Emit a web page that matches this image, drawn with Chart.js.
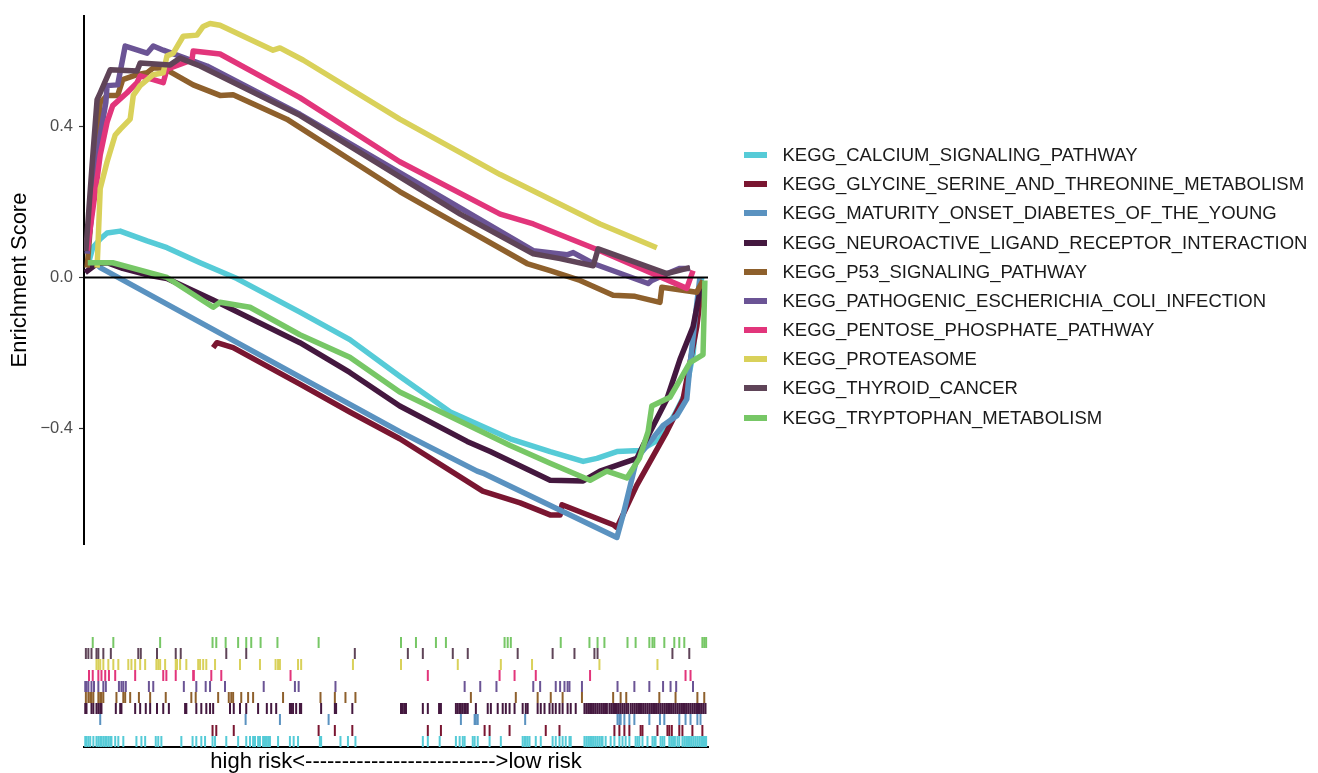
<!DOCTYPE html>
<html>
<head>
<meta charset="utf-8">
<script src="https://cdn.jsdelivr.net/npm/chart.js@4.4.0/dist/chart.umd.min.js"></script>
<style>
  html, body { margin: 0; padding: 0; background: #fff; }
  #wrap { position: relative; width: 1318px; height: 773px; overflow: hidden; }
  #esChart { position: absolute; left: 0; top: 0; }
  #rugChart { position: absolute; left: 0; top: 600px; }
  #legend {
    position: absolute; left: 744px; top: 140.4px;
    font-family: "Liberation Sans", Arial, sans-serif; font-size: 18.5px; color: #1a1a1a;
  }
  .item { display: flex; align-items: center; height: 29.2px; white-space: nowrap; }
  .key { width: 23px; height: 6px; margin-right: 15.5px; }
</style>
</head>
<body>
<div id="wrap">
  <canvas id="esChart" width="1318" height="560"></canvas>
  <canvas id="rugChart" width="1318" height="173"></canvas>
  <div id="legend"></div>
</div>
<script>
const geneSets = [
  "KEGG_CALCIUM_SIGNALING_PATHWAY",
  "KEGG_GLYCINE_SERINE_AND_THREONINE_METABOLISM",
  "KEGG_MATURITY_ONSET_DIABETES_OF_THE_YOUNG",
  "KEGG_NEUROACTIVE_LIGAND_RECEPTOR_INTERACTION",
  "KEGG_P53_SIGNALING_PATHWAY",
  "KEGG_PATHOGENIC_ESCHERICHIA_COLI_INFECTION",
  "KEGG_PENTOSE_PHOSPHATE_PATHWAY",
  "KEGG_PROTEASOME",
  "KEGG_THYROID_CANCER",
  "KEGG_TRYPTOPHAN_METABOLISM"
];
const palette = ["#56cbd7", "#7a1631", "#5a92c0", "#44183f", "#8e602c",
                 "#6b5495", "#e2357b", "#d9d15a", "#5f4458", "#77c766"];

const yTicks = [-0.4, 0, 0.4];
const xTitle = "high risk<-------------------------->low risk";

// running enrichment score, rank 0..1000
const calciumRank = [6, 14, 26, 37, 58, 101, 133, 186, 245, 346, 426, 506, 587, 683, 747, 800, 822, 854, 891, 923, 947, 963, 976, 984, 990];
const calciumES = [0.031, 0.079, 0.102, 0.118, 0.123, 0.097, 0.079, 0.039, -0.003, -0.092, -0.165, -0.262, -0.357, -0.428, -0.462, -0.488, -0.480, -0.462, -0.459, -0.428, -0.362, -0.310, -0.205, -0.060, 0.000];

const glycineRank = [207, 213, 239, 346, 426, 506, 639, 699, 747, 763, 766, 848, 854, 886, 934, 960, 982, 990];
const glycineES = [-0.186, -0.173, -0.186, -0.283, -0.357, -0.428, -0.567, -0.598, -0.630, -0.630, -0.603, -0.656, -0.664, -0.551, -0.409, -0.323, -0.131, -0.021];

const maturityRank = [6, 18, 26, 506, 630, 639, 854, 864, 886, 928, 950, 966, 971, 979, 987];
const maturityES = [0.039, 0.039, 0.026, -0.409, -0.514, -0.519, -0.690, -0.630, -0.480, -0.393, -0.367, -0.323, -0.236, -0.113, 0.000];

const neuroRank = [2, 21, 37, 62, 106, 133, 207, 346, 426, 506, 614, 651, 747, 800, 827, 886, 896, 934, 955, 976, 989];
const neuroES = [0.013, 0.037, 0.039, 0.024, 0.005, -0.003, -0.060, -0.173, -0.252, -0.341, -0.435, -0.462, -0.538, -0.540, -0.514, -0.480, -0.446, -0.323, -0.218, -0.131, -0.021];

const p53Rank = [5, 26, 37, 54, 62, 85, 101, 111, 127, 175, 218, 239, 325, 506, 710, 747, 795, 848, 883, 923, 926, 982, 992];
const p53ES = [0.026, 0.464, 0.483, 0.483, 0.525, 0.538, 0.543, 0.556, 0.556, 0.511, 0.483, 0.485, 0.420, 0.228, 0.037, 0.018, -0.008, -0.047, -0.050, -0.066, -0.026, -0.039, -0.008];

const pathoRank = [5, 26, 35, 37, 54, 66, 101, 111, 127, 197, 346, 720, 774, 784, 816, 904, 910, 934, 955, 971];
const pathoES = [0.063, 0.378, 0.464, 0.509, 0.511, 0.614, 0.595, 0.614, 0.603, 0.561, 0.433, 0.071, 0.060, 0.066, 0.037, -0.016, -0.008, 0.010, 0.024, 0.024];

const pentoseRank = [5, 21, 26, 37, 46, 69, 85, 90, 111, 127, 133, 173, 175, 218, 346, 506, 667, 720, 827, 966, 976];
const pentoseES = [0.071, 0.262, 0.325, 0.412, 0.456, 0.490, 0.517, 0.535, 0.525, 0.517, 0.553, 0.577, 0.601, 0.593, 0.477, 0.307, 0.168, 0.142, 0.071, -0.029, 0.018];

const proteaRank = [21, 26, 37, 50, 58, 74, 79, 90, 111, 127, 133, 143, 159, 181, 191, 202, 218, 303, 314, 351, 506, 667, 827, 918];
const proteaES = [0.026, 0.236, 0.307, 0.378, 0.393, 0.420, 0.483, 0.509, 0.538, 0.543, 0.588, 0.595, 0.640, 0.643, 0.666, 0.674, 0.669, 0.603, 0.609, 0.577, 0.420, 0.273, 0.142, 0.079];

const thyroidRank = [3, 13, 21, 26, 42, 85, 90, 138, 154, 186, 346, 603, 720, 763, 816, 824, 934, 971];
const thyroidES = [0.07, 0.299, 0.472, 0.490, 0.551, 0.548, 0.569, 0.564, 0.582, 0.561, 0.430, 0.168, 0.063, 0.050, 0.031, 0.076, 0.010, 0.026];

const tryptoRank = [6, 46, 133, 207, 218, 266, 346, 426, 506, 683, 747, 811, 838, 870, 890, 904, 910, 939, 971, 992, 995];
const tryptoES = [0.039, 0.039, 0.000, -0.079, -0.066, -0.079, -0.152, -0.212, -0.304, -0.446, -0.493, -0.538, -0.514, -0.532, -0.480, -0.409, -0.341, -0.318, -0.226, -0.205, -0.008];

// gene hits per set (rug)
const rugCalcium = [2, 4, 7, 10, 15, 20, 23, 26, 28, 31, 34, 36, 39, 42, 44, 50, 55, 63, 84, 92, 98, 115, 119, 124, 156, 174, 180, 188, 194, 206, 210, 228, 247, 260, 266, 271, 274, 279, 282, 287, 290, 292, 295, 298, 311, 330, 336, 343, 378, 380, 411, 423, 435, 543, 551, 570, 596, 602, 607, 610, 623, 626, 631, 650, 668, 703, 706, 708, 711, 714, 724, 732, 751, 756, 762, 767, 772, 778, 780, 802, 805, 808, 811, 814, 817, 820, 823, 826, 829, 831, 836, 844, 850, 858, 863, 868, 874, 884, 887, 890, 895, 903, 911, 914, 916, 924, 927, 930, 938, 941, 944, 947, 951, 954, 959, 962, 965, 968, 971, 974, 977, 980, 983, 986, 989, 992, 995, 997];
const rugGlycine = [206, 212, 240, 376, 402, 430, 551, 572, 642, 650, 682, 740, 762, 850, 858, 866, 874, 892, 895, 919, 935, 938, 942, 954, 959, 975, 991];
const rugMaturity = [26, 259, 314, 392, 604, 626, 628, 631, 707, 855, 858, 860, 866, 874, 882, 906, 923, 930, 954, 964, 972, 983, 988];
const rugNeuro = [2, 4, 12, 15, 20, 23, 26, 28, 51, 58, 60, 82, 90, 99, 106, 117, 127, 136, 162, 164, 180, 188, 196, 202, 207, 234, 240, 250, 260, 279, 293, 300, 308, 330, 332, 335, 340, 346, 348, 380, 402, 404, 430, 508, 511, 514, 516, 543, 551, 569, 572, 596, 599, 602, 604, 607, 610, 612, 615, 628, 647, 652, 663, 671, 676, 682, 690, 703, 708, 711, 727, 732, 738, 746, 751, 756, 762, 767, 775, 780, 788, 802, 805, 808, 811, 814, 817, 820, 823, 826, 829, 832, 835, 838, 842, 845, 848, 851, 854, 857, 860, 863, 866, 869, 872, 876, 879, 882, 885, 888, 891, 894, 897, 900, 903, 906, 909, 912, 915, 918, 921, 924, 927, 930, 933, 936, 939, 942, 945, 948, 951, 954, 957, 960, 963, 966, 969, 972, 975, 978, 981, 984, 987, 990, 993, 996];
const rugP53 = [3, 7, 10, 12, 15, 23, 26, 28, 31, 52, 63, 66, 74, 88, 106, 131, 172, 179, 215, 232, 236, 239, 252, 263, 271, 319, 379, 402, 419, 435, 620, 692, 727, 748, 767, 798, 848, 860, 869, 922, 948, 983, 994];
const rugPatho = [2, 4, 7, 12, 16, 23, 31, 35, 56, 60, 63, 67, 104, 111, 160, 180, 195, 202, 226, 288, 338, 344, 403, 610, 635, 661, 720, 731, 756, 763, 770, 775, 778, 798, 855, 882, 906, 928, 940, 949, 976];
const rugPentose = [8, 14, 23, 28, 34, 40, 50, 82, 127, 132, 147, 175, 176, 204, 220, 331, 551, 666, 690, 724, 811, 964, 972];
const rugProtea = [20, 23, 26, 31, 39, 47, 55, 71, 76, 82, 90, 98, 116, 119, 122, 130, 147, 149, 154, 164, 183, 186, 191, 196, 210, 250, 282, 307, 311, 314, 343, 348, 431, 508, 599, 668, 718, 826, 919];
const rugThyroid = [3, 7, 12, 20, 23, 31, 43, 87, 91, 117, 147, 155, 228, 260, 434, 519, 543, 591, 615, 695, 751, 786, 818, 823, 943, 970];
const rugTrypto = [14, 47, 122, 206, 212, 227, 247, 260, 268, 283, 310, 376, 508, 532, 564, 580, 674, 679, 684, 764, 810, 823, 834, 871, 884, 906, 911, 914, 930, 946, 954, 962, 991, 994, 997];

const ranks = [calciumRank, glycineRank, maturityRank, neuroRank, p53Rank, pathoRank, pentoseRank, proteaRank, thyroidRank, tryptoRank];
const scores = [calciumES, glycineES, maturityES, neuroES, p53ES, pathoES, pentoseES, proteaES, thyroidES, tryptoES];
const hits = [rugCalcium, rugGlycine, rugMaturity, rugNeuro, rugP53, rugPatho, rugPentose, rugProtea, rugThyroid, rugTrypto];

const xMin = 0, xMax = 1000;
const FONT = '"Liberation Sans", Arial, Helvetica, sans-serif';

function fmtTick(v) {
  if (v === 0) return "0.0";
  return (v < 0 ? "\u2212" : "") + Math.abs(v).toFixed(1);
}

const esDatasets = geneSets.map((name, i) => ({
  label: name,
  data: ranks[i].map((r, j) => ({ x: r, y: scores[i][j] })),
  showLine: true,
  borderColor: palette[i],
  borderWidth: 5.5,
  borderJoinStyle: "round",
  pointRadius: 0,
  tension: 0,
  order: geneSets.length - i
}));

esDatasets.push({
  label: "zero",
  data: [{ x: xMin, y: 0 }, { x: xMax, y: 0 }],
  showLine: true,
  borderColor: "#000",
  borderWidth: 2,
  pointRadius: 0,
  order: -1
});

new Chart(document.getElementById("esChart"), {
  type: "scatter",
  data: { datasets: esDatasets },
  options: {
    responsive: false,
    animation: false,
    devicePixelRatio: 1,
    layout: { padding: { top: 14, bottom: 13, left: 0, right: 610 } },
    plugins: { legend: { display: false }, tooltip: { enabled: false } },
    scales: {
      x: { type: "linear", min: xMin, max: xMax, display: false },
      y: {
        min: -0.7075,
        max: 0.694,
        afterFit: s => { s.width = 84; },
        afterBuildTicks: s => { s.ticks = yTicks.map(v => ({ value: v })); },
        ticks: {
          callback: v => fmtTick(v),
          color: "#4d4d4d",
          font: { size: 16.5, family: FONT },
          padding: 6
        },
        grid: { drawOnChartArea: false, drawTicks: true, tickLength: 5, tickColor: "#333", tickWidth: 1.2 },
        border: { display: true, color: "#000", width: 2 },
        title: {
          display: true,
          text: "Enrichment Score",
          color: "#000",
          font: { size: 22, family: FONT },
          padding: { top: 7, bottom: 0 }
        }
      }
    }
  }
});

const rugDatasets = geneSets.map((name, i) => ({
  label: name,
  data: hits[i].map(r => ({ x: r, y: i })),
  borderColor: palette[i],
  backgroundColor: palette[i],
  pointStyle: "line",
  rotation: 90,
  pointRadius: 5.5,
  borderWidth: 2
}));

new Chart(document.getElementById("rugChart"), {
  type: "scatter",
  data: { datasets: rugDatasets },
  options: {
    responsive: false,
    animation: false,
    devicePixelRatio: 1,
    layout: { padding: { top: 37, bottom: 0, left: 84, right: 610 } },
    plugins: { legend: { display: false }, tooltip: { enabled: false } },
    scales: {
      x: {
        type: "linear", min: xMin, max: xMax,
        afterFit: s => { s.height = 26; },
        ticks: { display: false },
        grid: { display: false, drawTicks: false },
        border: { display: true, color: "#000", width: 2 },
        title: {
          display: true,
          text: xTitle,
          color: "#000",
          font: { size: 22, family: FONT, lineHeight: 1 },
          padding: { top: 0, bottom: 0 }
        }
      },
      y: { min: -0.5, max: 9.5, display: false }
    }
  }
});

// legend
const legend = document.getElementById("legend");
geneSets.forEach((name, i) => {
  const row = document.createElement("div");
  row.className = "item";
  const key = document.createElement("span");
  key.className = "key";
  key.style.background = palette[i];
  const txt = document.createElement("span");
  txt.textContent = name;
  row.appendChild(key);
  row.appendChild(txt);
  legend.appendChild(row);
});
</script>
</body>
</html>
